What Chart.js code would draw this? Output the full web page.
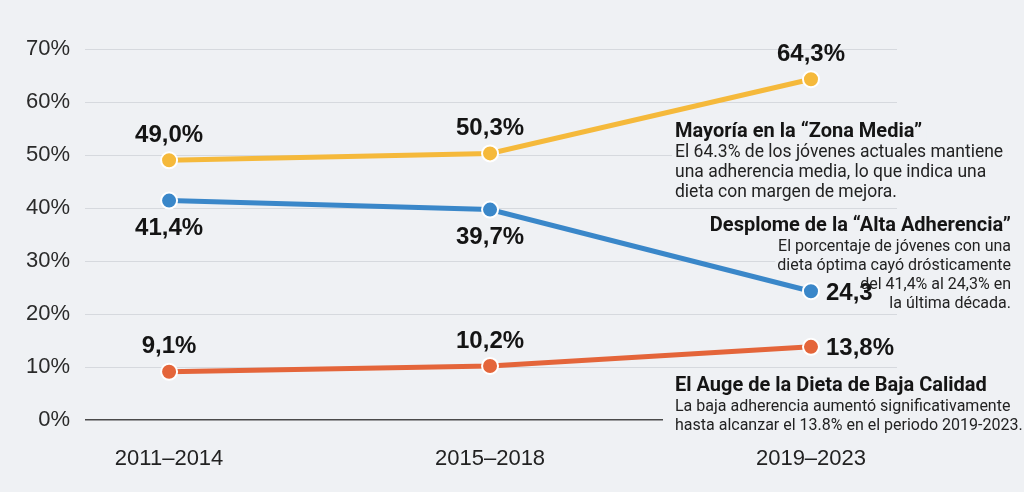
<!DOCTYPE html>
<html>
<head>
<meta charset="utf-8">
<script src="https://cdn.jsdelivr.net/npm/chart.js@4/dist/chart.umd.min.js"></script>
<style>
  html, body { margin: 0; padding: 0; background: #eff1f4; }
  canvas { display: block; }
</style>
</head>
<body>
<canvas id="c" width="1024" height="492"></canvas>
<script>
// ---- data ----
const categories = ['2011–2014', '2015–2018', '2019–2023'];
const mediaValues = [49.0, 50.3, 64.3];
const altaValues = [41.4, 39.7, 24.3];
const bajaValues = [9.1, 10.2, 13.8];
const mediaLabels = ['49,0%', '50,3%', '64,3%'];
const altaLabels = ['41,4%', '39,7%', '24,3'];
const bajaLabels = ['9,1%', '10,2%', '13,8%'];
const yTicks = [0, 10, 20, 30, 40, 50, 60, 70];

const BG = '#eff1f4';
const toPts = arr => arr.map((v, i) => ({ x: i, y: v }));

const annotations = [
  { x: 675, align: 'left', pad: 3, titleY: 132, lineH: 20, bodySize: 17.5,
    title: 'Mayoría en la “Zona Media”',
    lines: ['El 64.3% de los jóvenes actuales mantiene',
            'una adherencia media, lo que indica una',
            'dieta con margen de mejora.'] },
  { x: 1011, align: 'right', pad: 2, titleY: 226, lineH: 19, bodySize: 16,
    title: 'Desplome de la “Alta Adherencia”',
    lines: ['El porcentaje de jóvenes con una',
            'dieta óptima cayó drósticamente',
            'del 41,4% al 24,3% en',
            'la última década.'] },
  { x: 675, align: 'left', pad: 12, titleY: 386, lineH: 19, bodySize: 16,
    title: 'El Auge de la Dieta de Baja Calidad',
    lines: ['La baja adherencia aumentó significativamente',
            'hasta alcanzar el 13.8% en el periodo 2019-2023.'] }
];
const TITLE_FONT = 'bold 20px Roboto';

function annotRows(a) {
  const rows = [{ text: a.title, font: TITLE_FONT, y: a.titleY, color: '#151515' }];
  a.lines.forEach((t, i) => rows.push({ text: t, font: a.bodySize + 'px Roboto', y: a.titleY + 21 + i * a.lineH, color: '#222' }));
  return rows;
}

const annotPlugin = {
  id: 'annot',
  beforeDatasetsDraw(chart) {
    const ctx = chart.ctx;
    ctx.save();
    ctx.fillStyle = BG;
    annotations.forEach(a => {
      annotRows(a).forEach(r => {
        ctx.font = r.font;
        const w = ctx.measureText(r.text).width;
        const left = a.align === 'left' ? a.x : a.x - w;
        ctx.fillRect(left - a.pad, r.y - 10, w + a.pad + 4, 20);
      });
    });
    ctx.restore();
  },
  afterDraw(chart) {
    const ctx = chart.ctx;
    ctx.save();
    ctx.textBaseline = 'middle';
    annotations.forEach(a => {
      ctx.textAlign = a.align;
      annotRows(a).forEach(r => {
        ctx.font = r.font;
        ctx.fillStyle = r.color;
        ctx.fillText(r.text, a.x, r.y);
      });
    });
    ctx.restore();
  }
};

const labelPlugin = {
  id: 'pointLabels',
  afterDatasetsDraw(chart) {
    const ctx = chart.ctx;
    ctx.save();
    ctx.font = 'bold 24px "Liberation Sans", Arial, sans-serif';
    ctx.fillStyle = '#141414';
    ctx.textBaseline = 'middle';
    chart.data.datasets.forEach((ds, di) => {
      const meta = chart.getDatasetMeta(di);
      meta.data.forEach((pt, i) => {
        const pos = ds.labelPos[i];
        const txt = ds.pointLabels[i];
        if (pos === 'above') { ctx.textAlign = 'center'; ctx.fillText(txt, pt.x, pt.y - 25); }
        else if (pos === 'below') { ctx.textAlign = 'center'; ctx.fillText(txt, pt.x, pt.y + 28); }
        else { ctx.textAlign = 'left'; ctx.fillText(txt, pt.x + 15, pt.y + 2); }
      });
    });
    ctx.restore();
  }
};

function ds(values, labels, color, pos) {
  return {
    data: toPts(values),
    pointLabels: labels,
    labelPos: pos,
    borderColor: color,
    backgroundColor: color,
    borderWidth: 5,
    pointRadius: 8,
    pointHoverRadius: 8,
    pointBackgroundColor: color,
    pointBorderColor: '#ffffff',
    pointBorderWidth: 2,
    tension: 0,
    clip: false
  };
}

new Chart(document.getElementById('c'), {
  type: 'line',
  data: {
    datasets: [
      ds(mediaValues, mediaLabels, '#f5b93b', ['above', 'above', 'above']),
      ds(altaValues, altaLabels, '#3a87c9', ['below', 'below', 'right']),
      ds(bajaValues, bajaLabels, '#e4653a', ['above', 'above', 'right'])
    ]
  },
  options: {
    responsive: false,
    animation: false,
    layout: { padding: { top: 49, right: 127, left: 0, bottom: 0 } },
    plugins: { legend: { display: false }, tooltip: { enabled: false } },
    scales: {
      x: {
        type: 'linear',
        min: -0.262,
        max: 2.268,
        afterBuildTicks: s => { s.ticks = categories.map((c, i) => ({ value: i })); },
        afterFit: s => { s.height = 72; },
        ticks: {
          callback: v => categories[v],
          font: { family: '"Liberation Sans", Arial, sans-serif', size: 22 },
          color: '#222',
          padding: 18,
          maxRotation: 0,
          autoSkip: false
        },
        grid: { display: false },
        border: { display: false }
      },
      y: {
        min: 0,
        max: 70,
        afterBuildTicks: s => { s.ticks = yTicks.map(v => ({ value: v })); },
        afterFit: s => { s.width = 85; },
        ticks: {
          callback: v => v + '%',
          font: { family: '"Liberation Sans", Arial, sans-serif', size: 22 },
          color: '#2a2a2a',
          padding: 15
        },
        grid: {
          drawTicks: false,
          color: c => c.tick && c.tick.value === 0 ? '#4a4a4a' : '#d6d9de',
          lineWidth: c => c.tick && c.tick.value === 0 ? 1.5 : 1
        },
        border: { display: false }
      }
    }
  },
  plugins: [annotPlugin, labelPlugin]
});
</script>
</body>
</html>
